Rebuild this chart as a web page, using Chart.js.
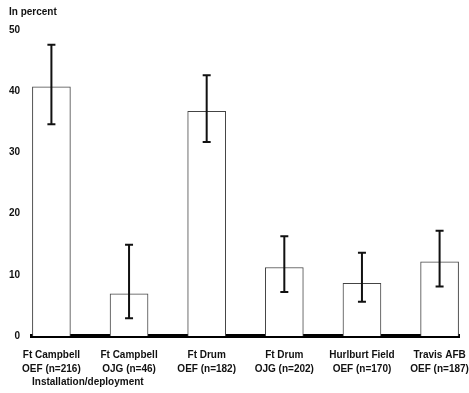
<!DOCTYPE html>
<html>
<head>
<meta charset="utf-8">
<script src="https://cdn.jsdelivr.net/npm/chart.js@4"></script>
<style>
  html, body { margin: 0; padding: 0; background: #fff; }
  #wrap { width: 469px; height: 393px; }
</style>
</head>
<body>
<div id="wrap"><canvas id="chart"></canvas></div>
<script>
// values (percent)
const categories = [
    ['Ft Campbell', 'OEF (n=216)'],
    ['Ft Campbell', 'OJG (n=46)'],
    ['Ft Drum', 'OEF (n=182)'],
    ['Ft Drum', 'OJG (n=202)'],
    ['Hurlburt Field', 'OEF (n=170)'],
    ['Travis AFB', 'OEF (n=187)']
];
const percents = [40.7, 6.9, 36.7, 11.2, 8.6, 12.1];
const errLow = [34.6, 2.9, 31.7, 7.2, 5.6, 8.1];
const errHigh = [47.6, 14.9, 42.6, 16.3, 13.6, 17.2];
const yTicks = [0, 10, 20, 30, 40, 50];

const ink = '#111';
const boldFont = { family: 'Liberation Sans, Arial, sans-serif', size: 10, weight: 'bold' };

// draws the error bars on top of the bars
const errorBars = {
    id: 'errorBars',
    afterDatasetsDraw(chart) {
        const ctx = chart.ctx;
        const xs = chart.scales.x;
        const ys = chart.scales.y;
        ctx.save();
        ctx.strokeStyle = ink;
        ctx.lineWidth = 2;
        categories.forEach(function(c, i) {
            const x = xs.getPixelForValue(i);
            const top = ys.getPixelForValue(errHigh[i]);
            const bot = ys.getPixelForValue(errLow[i]);
            ctx.beginPath();
            ctx.moveTo(x, top);
            ctx.lineTo(x, bot);
            ctx.moveTo(x - 4, top);
            ctx.lineTo(x + 4, top);
            ctx.moveTo(x - 4, bot);
            ctx.lineTo(x + 4, bot);
            ctx.stroke();
        });
        ctx.restore();
    }
};

const ctx = document.getElementById('chart').getContext('2d');
new Chart(ctx, {
    type: 'bar',
    data: {
        datasets: [{
            data: percents.map(function(v, i) { return { x: i, y: v }; }),
            backgroundColor: '#fff',
            borderColor: '#444',
            borderWidth: 1,
            barThickness: 38
        }]
    },
    options: {
        responsive: true,
        maintainAspectRatio: false,
        animation: false,
        layout: { padding: { left: 9, right: 10, top: 0, bottom: 5 } },
        plugins: {
            legend: { display: false },
            tooltip: { enabled: false },
            title: {
                display: true,
                text: 'In percent',
                align: 'start',
                color: ink,
                font: boldFont,
                padding: { top: 6, bottom: 12 }
            }
        },
        scales: {
            x: {
                type: 'linear',
                offset: false,
                min: -0.25,
                max: 5.25,
                z: 1,
                grid: { display: false, drawTicks: false },
                border: { display: true, color: '#000', width: 4 },
                afterBuildTicks: function(axis) {
                    axis.ticks = categories.map(function(c, i) { return { value: i }; });
                },
                afterFit: function(axis) {
                    axis.height = 52;
                    // let the outer labels run into the page margin
                    axis.paddingLeft = 0;
                    axis.paddingRight = 0;
                },
                ticks: {
                    color: ink,
                    font: Object.assign({}, boldFont, { lineHeight: 1.4 }),
                    padding: 12,
                    maxRotation: 0,
                    autoSkip: false,
                    callback: function(v) { return categories[v]; }
                },
                title: {
                    display: true,
                    text: 'Installation/deployment',
                    align: 'start',
                    color: ink,
                    font: boldFont,
                    padding: 0
                }
            },
            y: {
                min: 0,
                max: 50,
                grid: { display: false, drawTicks: false },
                border: { display: false },
                afterBuildTicks: function(axis) {
                    axis.ticks = yTicks.map(function(v) { return { value: v }; });
                },
                afterFit: function(axis) { axis.width = 23; },
                ticks: {
                    color: ink,
                    font: boldFont,
                    padding: 12
                }
            }
        }
    },
    plugins: [errorBars]
});
</script>
</body>
</html>
